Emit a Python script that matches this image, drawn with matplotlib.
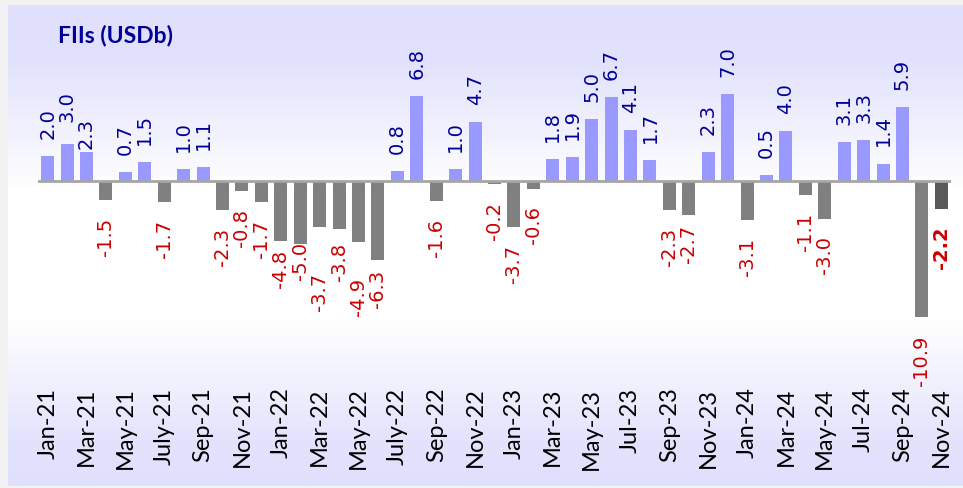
import numpy as np
import matplotlib
matplotlib.use("Agg")
import matplotlib.pyplot as plt

# ---- data ----
months = ['Jan-21','Feb-21','Mar-21','Apr-21','May-21','Jun-21','Jul-21','Aug-21','Sep-21','Oct-21','Nov-21','Dec-21',
          'Jan-22','Feb-22','Mar-22','Apr-22','May-22','Jun-22','Jul-22','Aug-22','Sep-22','Oct-22','Nov-22','Dec-22',
          'Jan-23','Feb-23','Mar-23','Apr-23','May-23','Jun-23','Jul-23','Aug-23','Sep-23','Oct-23','Nov-23','Dec-23',
          'Jan-24','Feb-24','Mar-24','Apr-24','May-24','Jun-24','Jul-24','Aug-24','Sep-24','Oct-24','Nov-24']
fii_flows = [2.0, 3.0, 2.3, -1.5, 0.7, 1.5, -1.7, 1.0, 1.1, -2.3, -0.8, -1.7,
             -4.8, -5.0, -3.7, -3.8, -4.9, -6.3, 0.8, 6.8, -1.6, 1.0, 4.7, -0.2,
             -3.7, -0.6, 1.8, 1.9, 5.0, 6.7, 4.1, 1.7, -2.3, -2.7, 2.3, 7.0,
             -3.1, 0.5, 4.0, -1.1, -3.0, 3.1, 3.3, 1.4, 5.9, -10.9, -2.2]
tick_labels = ['Jan-21','Mar-21','May-21','July-21','Sep-21','Nov-21','Jan-22','Mar-22','May-22','July-22',
               'Sep-22','Nov-22','Jan-23','Mar-23','May-23','Jul-23','Sep-23','Nov-23','Jan-24','Mar-24',
               'May-24','Jul-24','Sep-24','Nov-24']
title = 'FIIs (USDb)'

# label placement tweaks (pixels, positive = further from bar)
label_nudge_px = {1: 4, 2: -14, 12: -9, 13: -20, 14: 28, 15: -4, 16: 18, 17: -8, 33: -8}

W, H, DPI = 963, 489, 100
fig = plt.figure(figsize=(W / DPI, H / DPI), dpi=DPI)
fig.patch.set_facecolor('#f2f2f2')

# background panel with vertical gradient
bg = fig.add_axes([0, 0, 1, 1], zorder=0)
bg.set_xlim(0, W)
bg.set_ylim(H, 0)
bg.axis('off')
ys = np.arange(6, 487)
t = np.interp(ys, [6, 60, 190, 320, 440, 487], [0.0, 0.05, 1.0, 1.0, 0.1, 0.0])
lav = np.array([224, 224, 253]) / 255.0
white = np.array([1.0, 1.0, 1.0])
grad = lav[None, :] * (1 - t[:, None]) + white[None, :] * t[:, None]
img = np.repeat(grad[:, None, :], 2, axis=1)
bg.imshow(img, extent=(8, W, 487, 6), aspect='auto', interpolation='bilinear')
bg.text(58, 36, title, fontsize=16.5, fontweight='bold', color='#000099',
        family=['Lato', 'DejaVu Sans'], va='center', ha='left')

# main axes
left_px, right_px, top_px, bottom_px = 38, 951, 40, 382
zero_px, px_per_unit = 182, 12.5
ax = fig.add_axes([left_px / W, 1 - bottom_px / H, (right_px - left_px) / W, (bottom_px - top_px) / H], zorder=1)
ax.patch.set_alpha(0)
ax.set_ylim(-(bottom_px - zero_px) / px_per_unit, (zero_px - top_px) / px_per_unit)
n = len(fii_flows)
x = np.arange(n)
ax.set_xlim(-0.5, n - 0.5)

colors = []
for i, v in enumerate(fii_flows):
    if i == n - 1:
        colors.append('#595959')
    elif v >= 0:
        colors.append('#9999ff')
    else:
        colors.append('#808080')
ax.bar(x, fii_flows, width=0.67, color=colors, zorder=2)
ax.axhline(0, color='#a6a6a6', lw=2, zorder=3)

pt = 72.0 / DPI
for i, v in enumerate(fii_flows):
    nudge = label_nudge_px.get(i, 0)
    bold = (i == n - 1)
    if v >= 0:
        ax.annotate(f'{v:.1f}', xy=(i, v), xytext=(0, (18 + nudge) * pt), textcoords='offset points',
                    rotation=90, ha='center', va='bottom', fontsize=14, color='#000099',
                    family='DejaVu Sans', zorder=4)
    else:
        ax.annotate(f'{v:.1f}', xy=(i, v), xytext=(0, -(17 + nudge) * pt), textcoords='offset points',
                    rotation=90, ha='center', va='top', fontsize=14, color='#cc0000',
                    fontweight='bold' if bold else 'normal', family='DejaVu Sans', zorder=4)

ax.set_xticks(x[::2])
ax.set_xticklabels(tick_labels, rotation=90, fontsize=17, family=['Lato', 'DejaVu Sans'], color='black')
ax.tick_params(axis='x', length=0, pad=4)
ax.set_yticks([])
for s in ax.spines.values():
    s.set_visible(False)

fig.savefig('out.png', dpi=DPI, facecolor=fig.get_facecolor())
